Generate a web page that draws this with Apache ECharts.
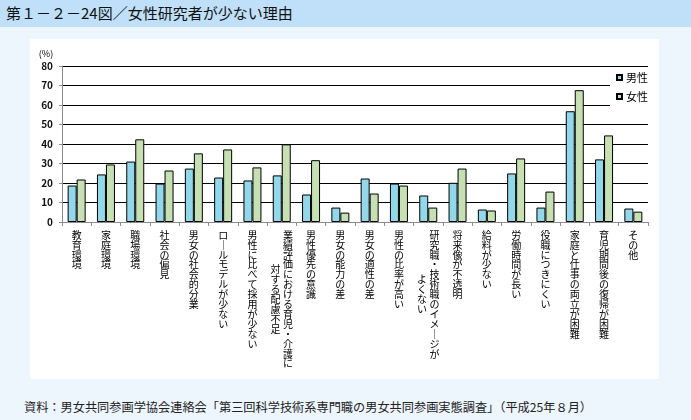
<!DOCTYPE html>
<html>
<head>
<meta charset="utf-8">
<script src="https://cdn.jsdelivr.net/npm/echarts@6/dist/echarts.min.js"></script>
<style>
  html, body { margin: 0; padding: 0; }
  body { width: 691px; height: 420px; background: #edf5fd; position: relative; overflow: hidden;
         font-family: "Noto Sans CJK JP", sans-serif; }
  #titlebar { position: absolute; left: 0; top: 0; width: 691px; height: 27px; background: #bfe0f8; }
  #titletext { position: absolute; left: 6px; top: 3px; font-size: 15px; line-height: 20px; color: #111; white-space: nowrap; }
  #panel { position: absolute; left: 30px; top: 39px; width: 629px; height: 340px; background: #ffffff; }
  #source { position: absolute; left: 24px; top: 399px; font-size: 12.2px; line-height: 16px; color: #222; white-space: nowrap; }
  #chart { position: absolute; left: 0; top: 0; width: 691px; height: 420px; }
</style>
</head>
<body>
<div id="titlebar"></div>
<div id="titletext">第１－２－24図／女性研究者が少ない理由</div>
<div id="panel"></div>
<div id="source">資料：男女共同参画学協会連絡会「第三回科学技術系専門職の男女共同参画実態調査」（平成25年８月）</div>
<div id="chart"></div>
<script>
// Categories ('\n' marks a second column of vertical text)
const categories = [
  '教育環境',
  '家庭環境',
  '職場環境',
  '社会の偏見',
  '男女の社会的分業',
  'ロールモデルが少ない',
  '男性に比べて採用が少ない',
  '業績評価における育児・介護に\n対する配慮不足',
  '男性優先の意識',
  '男女の能力の差',
  '男女の適性の差',
  '男性の比率が高い',
  '研究職・技術職のイメージが\nよくない',
  '将来像が不透明',
  '給料が少ない',
  '労働時間が長い',
  '役職につきにくい',
  '家庭と仕事の両立が困難',
  '育児期間後の復帰が困難',
  'その他'
];
const seriesNames = ['男性', '女性'];
const maleValues   = [18.7, 24.4, 31.0, 19.7, 27.4, 22.8, 21.3, 23.9, 14.1, 7.4, 22.3, 19.7, 13.6, 20.1, 6.4, 24.9, 7.4, 56.8, 32.1, 6.9];
const femaleValues = [21.8, 29.5, 42.4, 26.4, 35.2, 37.2, 28.0, 39.8, 31.7, 4.8, 14.6, 18.7, 7.4, 27.4, 5.9, 32.6, 15.6, 67.6, 44.4, 5.3];
const yTicks = [0, 10, 20, 30, 40, 50, 60, 70, 80];

function verticalLabel(name) {
  const cols = name.split('\n').map(s => Array.from(s.replace(/ー/g, '｜')));
  if (cols.length === 1) return cols[0].join('\n');
  const n1 = cols[0].length, n2 = cols[1].length;
  const rows = 2 * n1;
  const start = n1 - n2; // offset in half rows => second column centred
  const lines = ['{p| }'];
  for (let r = 0; r < rows; r++) {
    const a = (r % 2 === 0) ? cols[0][r / 2] : null;
    const bi = r - start;
    const b = (bi >= 0 && bi % 2 === 0 && bi / 2 < n2) ? cols[1][bi / 2] : null;
    lines.push('{c|' + (b || '\u3000') + '}{c|' + (a || '\u3000') + '}');
  }
  return lines.join('\n');
}

const chart = echarts.init(document.getElementById('chart'), null, { renderer: 'canvas' });
const font = '"Noto Sans CJK JP", sans-serif';
chart.setOption({
  backgroundColor: 'transparent',
  animation: false,
  textStyle: { fontFamily: font },
  grid: { left: 62, right: 43, top: 66, bottom: 198, outerBoundsMode: 'none' },
  legend: {
    orient: 'vertical',
    left: 610, top: 68,
    padding: [4, 6, 4, 6],
    itemGap: 8,
    itemWidth: 5, itemHeight: 5,
    icon: 'rect',
    backgroundColor: '#ffffff',
    textStyle: { fontSize: 11, color: '#000', fontFamily: font, padding: [0, 0, 0, -1] },
    data: seriesNames
  },
  xAxis: {
    type: 'category',
    data: categories,
    axisLine: { lineStyle: { color: '#8c8c8c', width: 1 } },
    axisTick: { show: true, length: 4, lineStyle: { color: '#8c8c8c' } },
    axisLabel: {
      interval: 0,
      margin: 8,
      fontSize: 10,
      lineHeight: 9.9,
      color: '#000',
      fontFamily: font,
      formatter: verticalLabel,
      rich: {
        c: { width: 12.7, align: 'center', lineHeight: 4.95, fontSize: 10, color: '#000', fontFamily: font },
        p: { lineHeight: 2.5, fontSize: 2 }
      }
    },
    splitLine: { show: false }
  },
  yAxis: {
    type: 'value',
    min: 0, max: 80, interval: 10,
    name: '(%)',
    nameLocation: 'end',
    nameGap: 8,
    nameTextStyle: { fontSize: 9, color: '#000', padding: [0, 32, 0, 0], fontFamily: font },
    axisLine: { show: true, lineStyle: { color: '#8c8c8c', width: 1 } },
    axisTick: { show: true, length: 3, lineStyle: { color: '#8c8c8c' } },
    axisLabel: {
      margin: 9, fontSize: 10, fontWeight: 'bold', color: '#111', fontFamily: font,
      formatter: v => yTicks.includes(v) ? String(v) : ''
    },
    splitLine: { show: true, lineStyle: { color: '#000', width: 1 } }
  },
  series: [
    {
      name: seriesNames[0], type: 'bar', data: maleValues,
      barWidth: 9, barGap: '0%',
      itemStyle: { color: '#93d8ea', borderColor: '#000', borderWidth: 1 }
    },
    {
      name: seriesNames[1], type: 'bar', data: femaleValues,
      barWidth: 9, barGap: '0%',
      itemStyle: { color: '#c6e0b4', borderColor: '#000', borderWidth: 1 }
    }
  ]
});
</script>
</body>
</html>
